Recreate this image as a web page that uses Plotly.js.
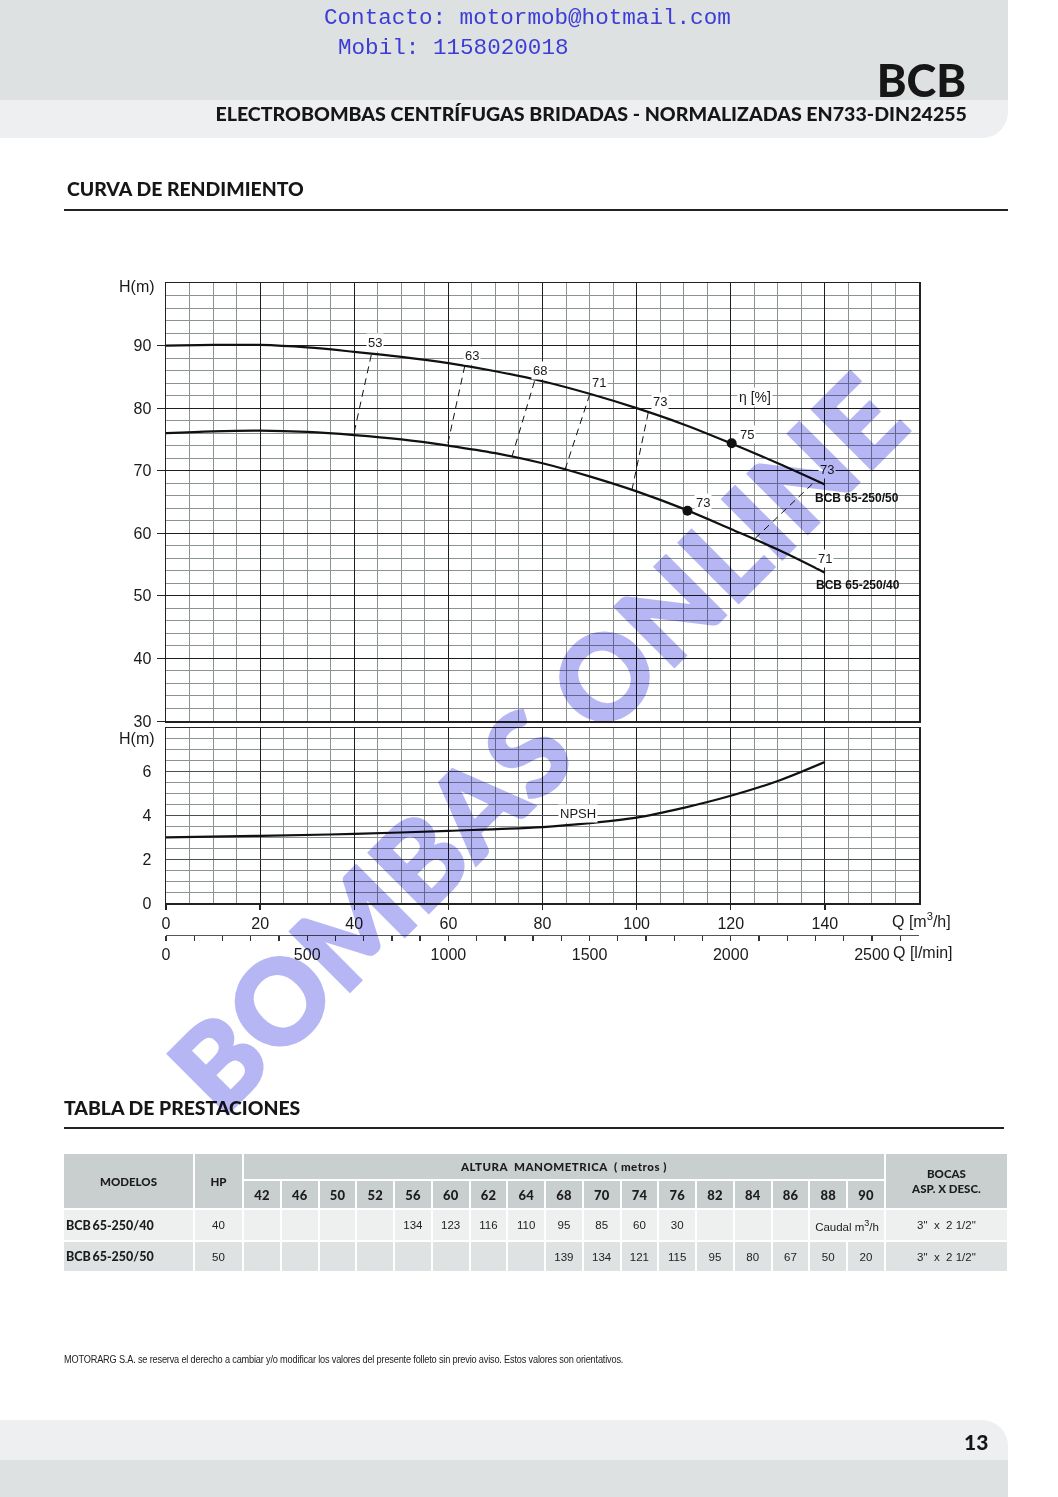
<!DOCTYPE html>
<html>
<head>
<meta charset="utf-8">
<script src="https://cdn.plot.ly/plotly-3.0.1.min.js"></script>
<style>
  html, body { margin:0; padding:0; background:#fff; }
  body { width:1058px; height:1497px; position:relative; overflow:hidden; font-family: Lato, "Open Sans", sans-serif; }
  .abs { position:absolute; }
  #topband { left:0; top:0; width:1008px; height:100px; background:#dde1e1; }
  #band2 { left:0; top:100px; width:1008px; height:38px; background:#eeeff0; border-bottom-right-radius:26px; }
  .contact { font-family:"Liberation Mono", "DejaVu Sans Mono", monospace; color:#3c3cd6; font-size:22.6px; white-space:pre; }
  #bcb { right:92px; top:58px; font-size:45px; line-height:1; font-weight:900; color:#161616; }
  #subtitle { right:91px; top:104px; font-size:19.6px; line-height:1; font-weight:900; color:#161616; white-space:nowrap; }
  .sect { font-size:19.4px; font-weight:900; color:#161616; white-space:nowrap; }
  .rule { height:2px; background:#222; }
  #chart { left:0; top:0; width:1058px; height:1000px; }
  #tbl { left:62px; top:1152px; width:947px; border-collapse:separate; border-spacing:2px; table-layout:fixed; }
  #tbl td { padding:0; text-align:center; vertical-align:middle; color:#222; font-size:11.5px; font-family:"Liberation Sans", Arial, sans-serif; overflow:hidden; white-space:nowrap; }
  #tbl td.h { background:#c9cfcf; font-family:Lato, sans-serif; font-weight:900; font-size:11.5px; color:#1c1c1c; }
  #tbl td.hn { font-size:13px; }
  #tbl tr.r1 td { background:#eeefef; height:30px; }
  #tbl tr.r2 td { background:#dfe2e2; height:29px; }
  #tbl td.model { text-align:left; padding-left:2px; font-family:Lato, sans-serif; font-weight:900; font-size:12.5px; color:#1c1c1c; }
  #note { left:64px; top:1354px; font-family:"Liberation Sans", Arial, sans-serif; font-size:10px; color:#222; white-space:nowrap; transform:scaleX(0.92); transform-origin:left top; letter-spacing:-0.2px; }
  #fband1 { left:0; top:1420px; width:1008px; height:40px; background:#eeeff0; border-top-right-radius:26px; }
  #fband2 { left:0; top:1460px; width:1008px; height:37px; background:#dde1e1; }
  #pnum { left:964px; top:1429px; font-size:21px; font-weight:900; color:#161616; }
  #wm { left:536px; top:742px; transform:translate(-50%,-50%) rotate(-45deg); font-family:Lato, sans-serif; font-weight:900; font-size:116px; color:#b6b6f5; mix-blend-mode:multiply; white-space:nowrap; pointer-events:none; z-index:50; letter-spacing:1px; -webkit-text-stroke:3px #b6b6f5; }
</style>
</head>
<body>
<div id="topband" class="abs"></div>
<div id="band2" class="abs"></div>
<div class="abs contact" style="left:324px; top:5px;">Contacto: motormob@hotmail.com</div>
<div class="abs contact" style="left:338px; top:35px;">Mobil: 1158020018</div>
<div id="bcb" class="abs">BCB</div>
<div id="subtitle" class="abs">ELECTROBOMBAS CENTRÍFUGAS BRIDADAS - NORMALIZADAS EN733-DIN24255</div>

<div class="abs sect" style="left:67px; top:177px;">CURVA DE RENDIMIENTO</div>
<div class="abs rule" style="left:64px; top:209px; width:944px;"></div>

<div id="chart" class="abs"></div>

<div class="abs sect" style="left:64px; top:1096px;">TABLA DE PRESTACIONES</div>
<div class="abs rule" style="left:64px; top:1127px; width:940px;"></div>

<table id="tbl" class="abs"></table>

<div id="note" class="abs">MOTORARG S.A. se reserva el derecho a cambiar y/o modificar los valores del presente folleto sin previo aviso. Estos valores son orientativos.</div>

<div id="fband1" class="abs"></div>
<div id="fband2" class="abs"></div>
<div id="pnum" class="abs">13</div>

<div id="wm" class="abs">BOMBAS ONLINE</div>

<script>
// ---------------- DATA ----------------
// Q-H curves (Q in m3/h, H in m)
const qCurve50 = [0, 10, 20, 30, 40, 50, 60, 70, 80, 90, 100, 110, 120, 130, 140];
const hCurve50 = [90.0, 90.1, 90.1, 89.7, 89.0, 88.2, 87.2, 85.9, 84.3, 82.3, 80.0, 77.4, 74.4, 71.2, 67.8];
const qCurve40 = [0, 10, 20, 30, 40, 50, 60, 70, 80, 90, 100, 110, 120, 130, 140];
const hCurve40 = [76.0, 76.3, 76.4, 76.2, 75.7, 75.0, 74.0, 72.8, 71.2, 69.1, 66.7, 63.9, 60.7, 57.4, 53.7];
// NPSH curve
const qNpsh = [0, 20, 40, 60, 80, 90, 100, 110, 120, 130, 140];
const hNpsh = [3.0, 3.07, 3.16, 3.3, 3.47, 3.65, 3.9, 4.35, 4.9, 5.58, 6.45];
// Iso-efficiency segments (from /40 curve to /50 curve)
const effValues = [53, 63, 68, 71, 73, 73];
const effQLow  = [40.0, 59.9, 73.5, 84.8, 99.0, 125.2];
const effHLow  = [76.2, 74.4, 72.2, 70.2, 66.9, 59.2];
const effQHigh = [43.7, 63.5, 78.3, 90.0, 102.5, 137.5];
const effHHigh = [88.8, 86.8, 84.3, 82.1, 79.4, 68.0];
// Best efficiency points
const bepQ = [120.2, 110.8];
const bepH = [74.4, 63.6];
const bepEff = [75, 73];
// end-of-curve efficiency on /40
const endEff40 = 71;
// axis ticks
const qTicks = [0, 20, 40, 60, 80, 100, 120, 140];
const hTicks = [30, 40, 50, 60, 70, 80, 90];
const npshTicks = [0, 2, 4, 6];
const lminTicks = [0, 500, 1000, 1500, 2000, 2500];
// table
const alturas = [42, 46, 50, 52, 56, 60, 62, 64, 68, 70, 74, 76, 82, 84, 86, 88, 90];
const modelos = ['BCB 65-250/40', 'BCB 65-250/50'];
const hp = [40, 50];
const caudal40 = [null, null, null, null, 134, 123, 116, 110, 95, 85, 60, 30, null, null, null, null, null];
const caudal50 = [null, null, null, null, null, null, null, null, 139, 134, 121, 115, 95, 80, 67, 50, 20];
const bocas = ['3"  x  2 1/2"', '3"  x  2 1/2"'];

// ---------------- CHART ----------------
const W = 1058, H = 1000;
const px = v => v / W;
const py = v => 1 - v / H;
const QMAX = 160;
const LMIN_PER_M3H = 1000 / 60;

const traces = [];
traces.push({x: qCurve50, y: hCurve50, xaxis:'x', yaxis:'y', mode:'lines', line:{color:'#111', width:2.2, shape:'spline'}, hoverinfo:'skip', showlegend:false});
traces.push({x: qCurve40, y: hCurve40, xaxis:'x', yaxis:'y', mode:'lines', line:{color:'#111', width:2.2, shape:'spline'}, hoverinfo:'skip', showlegend:false});
for (let i = 0; i < effValues.length; i++) {
  traces.push({x:[effQLow[i], effQHigh[i]], y:[effHLow[i], effHHigh[i]], xaxis:'x', yaxis:'y', mode:'lines',
    line:{color:'#111', width:1, dash:'7px,5px'}, hoverinfo:'skip', showlegend:false});
}
traces.push({x: bepQ, y: bepH, xaxis:'x', yaxis:'y', mode:'markers', marker:{color:'#111', size:10}, hoverinfo:'skip', showlegend:false});
traces.push({x: qNpsh, y: hNpsh, xaxis:'x2', yaxis:'y2', mode:'lines', line:{color:'#111', width:2.2, shape:'spline'}, hoverinfo:'skip', showlegend:false});
// carrier trace for l/min axis
traces.push({x:[0, QMAX*LMIN_PER_M3H], y:[0,0], xaxis:'x3', yaxis:'y2', mode:'markers', marker:{opacity:0, size:1}, hoverinfo:'skip', showlegend:false});

const tickFont = {family:'"Liberation Sans", Arial, sans-serif', size:16, color:'#1a1a1a'};
const majorGrid = '#1e1e1e', minorGrid = '#8a9292';
const xdom = [px(166), px(919)];

const ann = [];
const lblFont = {family:'"Liberation Sans", Arial, sans-serif', size:13, color:'#1a1a1a'};
// iso-efficiency labels above top ends
const effShift = [[3,11],[7,10],[5,11],[9,12],[12,10],[14,14]];
for (let i = 0; i < effValues.length; i++) {
  ann.push({x: effQHigh[i], y: effHHigh[i], xref:'x', yref:'y', text: String(effValues[i]), showarrow:false,
    xanchor:'center', yanchor:'middle',
    xshift: effShift[i][0], yshift: effShift[i][1], font: lblFont, bgcolor:'#ffffff', borderpad:1});
}
const bepShift = [[15,9],[16,8]];
for (let i = 0; i < bepQ.length; i++) {
  ann.push({x: bepQ[i], y: bepH[i], xref:'x', yref:'y', text: String(bepEff[i]), showarrow:false,
    xanchor:'center', yanchor:'middle',
    xshift: bepShift[i][0], yshift: bepShift[i][1], font: lblFont, bgcolor:'#ffffff', borderpad:1});
}
ann.push({x: qCurve40[qCurve40.length-1], y: hCurve40[hCurve40.length-1], xref:'x', yref:'y', text:String(endEff40), showarrow:false, xanchor:'center', yanchor:'middle', xshift:0, yshift:14, font:lblFont, bgcolor:'#ffffff', borderpad:1});
ann.push({x: 125.2, y: 81.8, xref:'x', yref:'y', text:'η [%]', showarrow:false, xanchor:'center', yanchor:'middle', font:{family:'"Liberation Sans", Arial, sans-serif', size:14, color:'#1a1a1a'}, bgcolor:'#ffffff', borderpad:1});
ann.push({x: 146.8, y: 65.7, xref:'x', yref:'y', text:'<b>BCB 65-250/50</b>', showarrow:false, xanchor:'center', yanchor:'middle', font:{family:'"Liberation Sans", Arial, sans-serif', size:12, color:'#111'}});
ann.push({x: 147.1, y: 51.8, xref:'x', yref:'y', text:'<b>BCB 65-250/40</b>', showarrow:false, xanchor:'center', yanchor:'middle', font:{family:'"Liberation Sans", Arial, sans-serif', size:12, color:'#111'}});
ann.push({x: 87.6, y: 4.1, xref:'x2', yref:'y2', text:'NPSH', showarrow:false, xanchor:'center', yanchor:'middle', font:lblFont, bgcolor:'#ffffff', borderpad:1});
// axis labels
const axLbl = (x, y, text) => ({x: px(x), y: py(y), xref:'paper', yref:'paper', text: text, showarrow:false, xanchor:'center', yanchor:'middle', font: tickFont});
ann.push(axLbl(137, 287, 'H(m)'));
ann.push(axLbl(137, 738, 'H(m)'));
ann.push(axLbl(921, 920, 'Q [m<sup>3</sup>/h]'));
ann.push(axLbl(923, 952, 'Q [l/min]'));

const layout = {
  width: W, height: H, autosize:false,
  margin:{l:0, r:0, t:0, b:0, pad:0},
  paper_bgcolor:'rgba(0,0,0,0)', plot_bgcolor:'#ffffff',
  showlegend:false,
  xaxis: {domain: xdom, anchor:'y', range:[0, QMAX], tickmode:'array', tickvals: qTicks,
    showticklabels:false, ticks:'', showgrid:true, gridcolor: majorGrid, gridwidth:1, zeroline:false,
    showline:true, linecolor:'#222', linewidth:1.5, mirror:true,
    minor:{tickmode:'linear', tick0:0, dtick:5, showgrid:true, gridcolor:minorGrid, gridwidth:1, ticks:''}},
  yaxis: {domain:[py(721), py(283)], anchor:'x', range:[30, 100], tickmode:'array', tickvals: hTicks,
    ticktext: hTicks.map(String), tickfont: tickFont, ticks:'outside', ticklen:8, tickcolor:'#222', tickwidth:1,
    ticklabelstandoff:2, showgrid:true, gridcolor: majorGrid, gridwidth:1, zeroline:false,
    showline:true, linecolor:'#222', linewidth:1.5, mirror:true,
    minor:{tickmode:'linear', tick0:30, dtick:2, showgrid:true, gridcolor:minorGrid, gridwidth:1, ticks:''}},
  xaxis2: {domain: xdom, anchor:'y2', range:[0, QMAX], tickmode:'array', tickvals: qTicks,
    ticktext: qTicks.map(String), tickfont: tickFont, ticks:'outside', ticklen:5, tickcolor:'#222', tickwidth:1.3,
    showgrid:true, gridcolor: majorGrid, gridwidth:1, zeroline:false,
    showline:true, linecolor:'#222', linewidth:1.5, mirror:true,
    minor:{tickmode:'linear', tick0:0, dtick:5, showgrid:true, gridcolor:minorGrid, gridwidth:1, ticks:''}},
  yaxis2: {domain:[py(903), py(728)], anchor:'x2', range:[0, 8], tickmode:'array', tickvals: npshTicks,
    ticktext: npshTicks.map(String), tickfont: tickFont, ticks:'', ticklabelstandoff:10,
    showgrid:true, gridcolor:'#4a5050', gridwidth:1, zeroline:false,
    showline:true, linecolor:'#222', linewidth:1.5, mirror:true,
    minor:{tickmode:'linear', tick0:0, dtick:0.5, showgrid:true, gridcolor:minorGrid, gridwidth:1, ticks:''}},
  xaxis3: {domain: xdom, overlaying:'x2', anchor:'free', position: py(935), side:'bottom',
    range:[0, QMAX*LMIN_PER_M3H], tickmode:'array', tickvals: lminTicks, ticktext: lminTicks.map(String),
    tickfont: tickFont, ticks:'outside', ticklen:5, tickcolor:'#333', tickwidth:1.3,
    showgrid:false, zeroline:false, showline:true, linecolor:'#555', linewidth:1,
    minor:{tickmode:'linear', tick0:0, dtick:100, ticks:'outside', ticklen:5, tickcolor:'#333', tickwidth:1.3, showgrid:false}},
  annotations: ann
};

Plotly.newPlot('chart', traces, layout, {displayModeBar:false, staticPlot:true});

// ---------------- TABLE ----------------
(function buildTable() {
  const t = document.getElementById('tbl');
  const colW = [129, 47].concat(alturas.map(() => 35.76)).concat([121]);
  let html = '<colgroup>' + colW.map(w => '<col style="width:' + w + 'px">').join('') + '</colgroup>';
  html += '<tr style="height:25px"><td class="h" rowspan="2">MODELOS</td><td class="h" rowspan="2">HP</td>' +
          '<td class="h" colspan="' + alturas.length + '" style="letter-spacing:0.5px">ALTURA &nbsp;MANOMETRICA &nbsp;( metros )</td>' +
          '<td class="h" rowspan="2" style="line-height:15px">BOCAS<br>ASP. X DESC.</td></tr>';
  html += '<tr style="height:27px">' + alturas.map(a => '<td class="h hn">' + a + '</td>').join('') + '</tr>';
  const rows = [caudal40, caudal50];
  rows.forEach((vals, r) => {
    html += '<tr class="r' + (r + 1) + '"><td class="model">' + modelos[r].replace(' ', '&#8201;') + '</td><td>' + hp[r] + '</td>';
    let i = 0;
    while (i < vals.length) {
      if (r === 0 && i === alturas.length - 2) {
        html += '<td colspan="2">Caudal m<sup style="font-size:9px">3</sup>/h</td>';
        i += 2; continue;
      }
      html += '<td>' + (vals[i] === null ? '' : vals[i]) + '</td>';
      i++;
    }
    html += '<td>' + bocas[r].replace(/ /g, '&nbsp;') + '</td></tr>';
  });
  t.innerHTML = html;
})();
</script>
</body>
</html>
